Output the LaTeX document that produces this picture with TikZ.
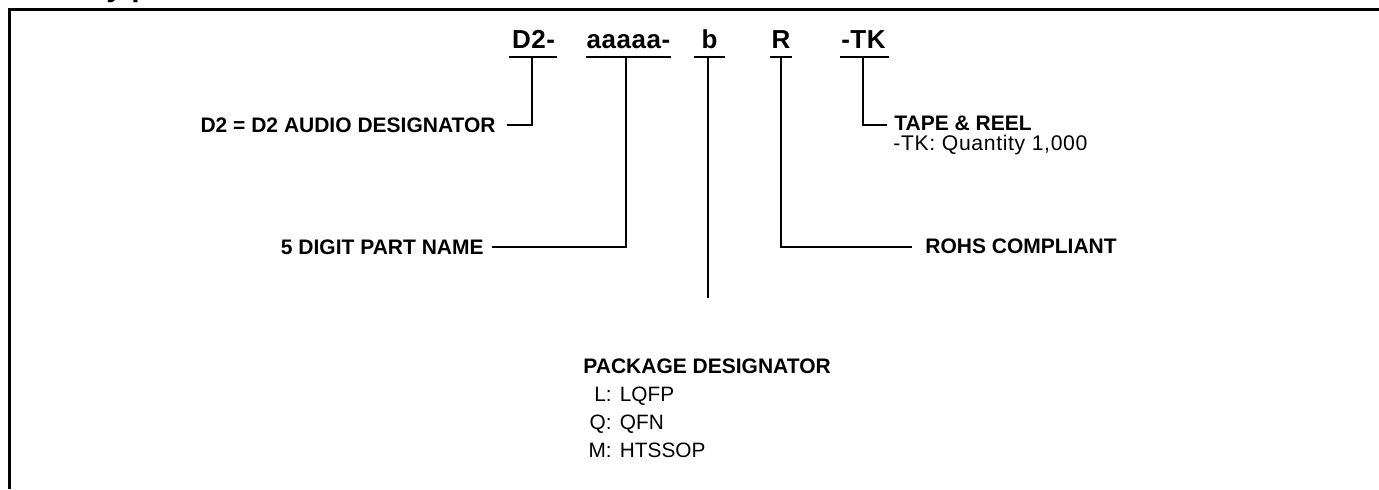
\documentclass[tikz,border=0pt]{standalone}
\usepackage{fontspec}
\setmainfont{Liberation Sans}
\newfontfamily\hdrfont[LetterSpace=2]{Liberation Sans}
\newfontfamily\qtyfont[LetterSpace=3]{Liberation Sans}
\begin{document}
\begin{tikzpicture}[x=0.5pt,y=-0.5pt,
  hdr/.style={font=\hdrfont\bfseries\fontsize{13}{15}\selectfont, inner sep=0, anchor=base},
  lbl/.style={font=\bfseries\fontsize{10.5}{12}\selectfont, inner sep=0},
  txt/.style={font=\fontsize{10.4}{12}\selectfont, inner sep=0},
  conn/.style={line width=1pt},
  frame/.style={line width=1.35pt, line join=miter}]
\useasboundingbox (0,0) rectangle (1379,489);
% frame and cut-off heading
\draw[frame] (9.3,489) -- (9.3,9.3) -- (1379,9.3);
\node[font=\bfseries\fontsize{15}{18}\selectfont, inner sep=0, anchor=base west] (head) at (106,-3.5) {y p};
% header code
\node[hdr] (hD) at (533.5,48) {D2-};
\node[hdr] (hA) at (628.5,48) {aaaaa-};
\node[hdr] (hB) at (709.5,48) {b};
\node[hdr] (hR) at (781,48) {R};
\node[hdr] (hK) at (863.5,48) {-TK};
% underlines
\coordinate (uDl) at (509,57); \coordinate (uDr) at (557,57);
\coordinate (uAl) at (586,57); \coordinate (uAr) at (671,57);
\coordinate (uBl) at (694,57); \coordinate (uBr) at (725,57);
\coordinate (uRl) at (770,57); \coordinate (uRr) at (792,57);
\coordinate (uKl) at (840,57); \coordinate (uKr) at (889,57);
\draw[conn] (uDl) -- (uDr);
\draw[conn] (uAl) -- (uAr);
\draw[conn] (uBl) -- (uBr);
\draw[conn] (uRl) -- (uRr);
\draw[conn] (uKl) -- (uKr);
% connector taps
\coordinate (tD) at (532,57);
\coordinate (tA) at (626,57);
\coordinate (tB) at (708,57);
\coordinate (tR) at (781,57);
\coordinate (tK) at (863,57);
% connector ends
\coordinate (eD) at (507,125);
\coordinate (eA) at (492,247);
\coordinate (eB) at (708,298);
\coordinate (eR) at (912,247);
\coordinate (eK) at (887,125);
% labels
\node[lbl, anchor=base east] (lD) at (496,132) {D2 = D2 AUDIO DESIGNATOR};
\node[lbl, anchor=base east] (lA) at (484,254) {5 DIGIT PART NAME};
\node[lbl, anchor=base west] (lR) at (925,253) {ROHS COMPLIANT};
\node[lbl, anchor=base west] (lK) at (894,130) {TAPE \& REEL};
\node[txt, font=\qtyfont\fontsize{10.6}{12}\selectfont, anchor=base west] (lK2) at (893,150) {-TK: Quantity 1,000};
\node[lbl, anchor=base west] (lP) at (583,373) {PACKAGE DESIGNATOR};
\node[txt, anchor=base east] (p1k) at (612,401) {L:};
\node[txt, anchor=base west] (p1v) at (619.5,401) {LQFP};
\node[txt, anchor=base east] (p2k) at (612,429) {Q:};
\node[txt, anchor=base west] (p2v) at (619.5,429) {QFN};
\node[txt, anchor=base east] (p3k) at (612,457) {M:};
\node[txt, anchor=base west] (p3v) at (619.5,457) {HTSSOP};
% connectors
\draw[conn] (tD) |- (eD);
\draw[conn] (tA) |- (eA);
\draw[conn] (tB) -- (eB);
\draw[conn] (tR) |- (eR);
\draw[conn] (tK) |- (eK);
\end{tikzpicture}
\end{document}
